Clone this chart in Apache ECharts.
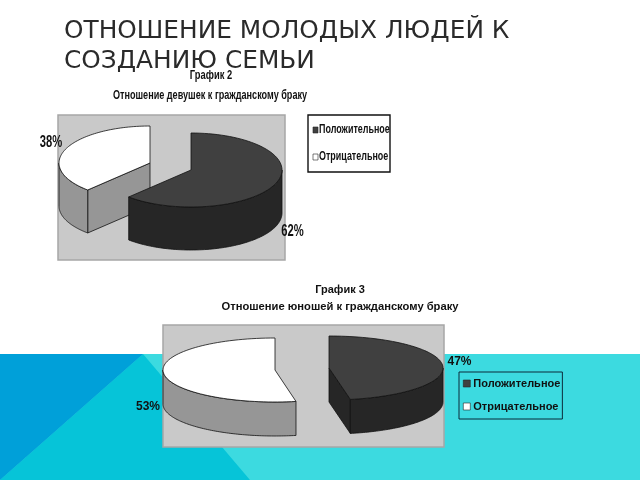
<!DOCTYPE html>
<html><head><meta charset="utf-8">
<style>html,body{margin:0;padding:0;background:#fff}#c{width:640px;height:480px}</style>
<script src="https://cdn.jsdelivr.net/npm/echarts@6/dist/echarts.min.js"></script>
</head><body><div id="c"></div>
<script>
const slideTitle = 'ОТНОШЕНИЕ МОЛОДЫХ ЛЮДЕЙ К\nСОЗДАНИЮ СЕМЬИ';
const categories = ['Положительное', 'Отрицательное'];
const girlsHeading = 'График 2';
const girlsSubheading = 'Отношение девушек к гражданскому браку';
const girlsValues = [62, 38];
const boysHeading = 'График 3';
const boysSubheading = 'Отношение юношей к гражданскому браку';
const boysValues = [47, 53];

const sans = '"Liberation Sans",sans-serif';
const TOP = ['#404040', '#ffffff'];
const SIDE = ['#262626', '#969696'];

function slice(values, idx, g) {
  return function (params, api) {
    const v = api.value(0);
    const start = idx === 0 ? 0 : values[0];
    const a0 = start * 3.6 * Math.PI / 180, a1 = (start + v) * 3.6 * Math.PI / 180;
    const cx = g.cx[idx], cy = g.cy[idx];
    const P = (t, dz) => [cx + g.rx[idx] * Math.sin(t), cy - g.ry * Math.cos(t) + (dz || 0)];
    const arc = (from, to, dz) => {
      const n = 80, pts = [];
      for (let i = 0; i <= n; i++) pts.push(P(from + (to - from) * i / n, dz));
      return pts;
    };
    const style = { stroke: '#111', lineWidth: 0.8, lineJoin: 'round' };
    const kids = [];
    const poly = (points, fill) => kids.push({ type: 'polygon', shape: { points }, style: { ...style, fill } });
    const apex = [cx, cy], apexB = [cx, cy + g.depth];
    if (Math.sin(a0) < 0) poly([apex, P(a0), P(a0, g.depth), apexB], SIDE[idx]);
    if (Math.sin(a1) > 0) poly([apex, P(a1), P(a1, g.depth), apexB], SIDE[idx]);
    const w0 = Math.max(a0, Math.PI / 2), w1 = Math.min(a1, Math.PI * 1.5);
    if (w1 > w0) poly(arc(w0, w1, 0).concat(arc(w1, w0, g.depth)), SIDE[idx]);
    poly([apex].concat(arc(a0, a1, 0)), TOP[idx]);
    kids.push({
      type: 'text', x: g.lx[idx], y: g.ly[idx], scaleX: g.labelScale,
      style: { text: v + '%', fill: '#111', font: g.labelFont, align: 'center', verticalAlign: 'middle' }
    });
    return { type: 'group', children: kids };
  };
}

const girlsGeom = { cx: [191, 150], cy: [170, 163], rx: [91, 91], ry: 37, depth: 43,
  lx: [292.5, 51], ly: [232, 143], labelFont: 'bold 16px ' + sans, labelScale: 0.7 };
const boysGeom = { cx: [329, 275], cy: [368, 370], rx: [114, 112], ry: 32, depth: 34,
  lx: [459.5, 148], ly: [362, 407], labelFont: 'bold 12px ' + sans, labelScale: 1 };

const seriesFor = (values, geom) => [1, 0].map(i => ({
  type: 'custom', name: categories[i], coordinateSystem: 'none', silent: true, animation: false,
  z: 5, data: [[values[i]]], renderItem: slice(values, i, geom)
}));

const headline = (text, x, y, size) => ({
  text, left: x, top: y, textAlign: 'center', textVerticalAlign: 'middle', padding: 0,
  textStyle: { fontFamily: sans, fontWeight: 'bold', fontSize: size, color: '#111' }
});

const squeezed = (text, x, y, size, sx, align) => ({
  type: 'text', x, y, scaleX: sx, z: 6,
  style: { text, fill: '#111', font: 'bold ' + size + 'px ' + sans, align, verticalAlign: 'middle' }
});

const rect = (x, y, w, h) => ({ type: 'rect', shape: { x, y, width: w, height: h }, z: 1,
  style: { fill: '#c9c9c9', stroke: '#a6a6a6', lineWidth: 1.5 } });
const band = (points, fill, z) => ({ type: 'polygon', shape: { points }, z, style: { fill } });
const swatch = (x, y, fill) => ({ type: 'rect', shape: { x, y, width: 5, height: 6 }, z: 6,
  style: { fill, stroke: '#222', lineWidth: 0.6 } });

const chart = echarts.init(document.getElementById('c'), null, { renderer: 'canvas' });
chart.setOption({
  animation: false,
  backgroundColor: '#ffffff',
  title: [
    { text: slideTitle, left: 64, top: 17, padding: 0,
      textStyle: { fontFamily: '"DejaVu Sans"', fontWeight: 'normal', fontSize: 24.8, lineHeight: 30, color: '#2a2a2a' } },
    headline(boysHeading, 340, 290, 11),
    headline(boysSubheading, 340, 307, 11.2)
  ],
  legend: [{
    orient: 'vertical', left: 459, top: 372,
    selectedMode: false, icon: 'rect', itemWidth: 7, itemHeight: 7, itemGap: 12,
    padding: [6, 2, 7, 4], borderColor: '#0b2b3a', borderWidth: 1, backgroundColor: 'transparent',
    textStyle: { fontFamily: sans, fontWeight: 'bold', fontSize: 11, color: '#111', padding: [0, 0, 0, -2] },
    data: [
      { name: categories[0], itemStyle: { color: '#404040', borderColor: '#222', borderWidth: 0.6 } },
      { name: categories[1], itemStyle: { color: '#ffffff', borderColor: '#222', borderWidth: 0.6 } }
    ]
  }],
  graphic: [
    band([[0, 354], [640, 354], [640, 480], [0, 480]], '#3cdae0', 0),
    band([[143, 354], [250, 480], [0, 480]], '#06c4d8', 0),
    band([[0, 354], [143, 354], [0, 480]], '#00a0d9', 0),
    rect(58, 115, 227, 145),
    rect(163, 325, 281, 122),
    squeezed(girlsHeading, 211, 75, 13, 0.72, 'center'),
    squeezed(girlsSubheading, 210, 95, 13, 0.7, 'center'),
    { type: 'rect', shape: { x: 308, y: 115, width: 82, height: 57 }, z: 5,
      style: { fill: '#fff', stroke: '#111', lineWidth: 1.4 } },
    swatch(313, 127, '#404040'),
    swatch(313, 154, '#ffffff'),
    squeezed(categories[0], 319, 130, 12, 0.745, 'left'),
    squeezed(categories[1], 319, 157, 12, 0.745, 'left')
  ],
  series: seriesFor(girlsValues, girlsGeom).concat(seriesFor(boysValues, boysGeom))
});
</script></body></html>
